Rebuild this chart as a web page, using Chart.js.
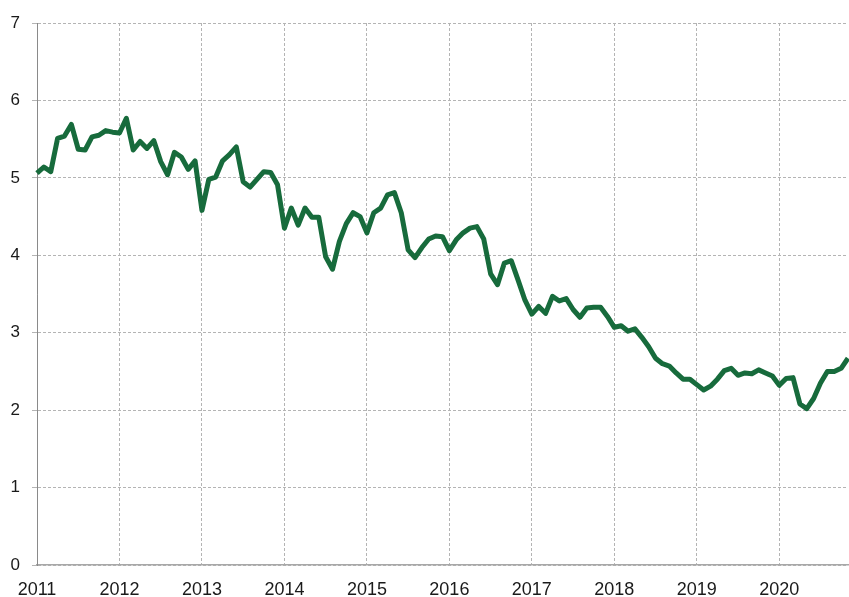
<!DOCTYPE html>
<html>
<head>
<meta charset="utf-8">
<script src="https://cdn.jsdelivr.net/npm/chart.js@4.4.1/dist/chart.umd.min.js"></script>
<style>
    body { margin: 0; background: #fff; }
    #wrap { width: 849px; height: 597px; }
</style>
</head>
<body>
<div id="wrap"><canvas id="rateChart" width="849" height="597"></canvas></div>
<script>
// monthly values, Jan 2011 .. Nov 2020
var years = ['2011', '2012', '2013', '2014', '2015', '2016', '2017', '2018', '2019', '2020'];
var yTicks = [0, 1, 2, 3, 4, 5, 6, 7];
var values = [
    5.06, 5.14, 5.08, 5.51, 5.54, 5.69, 5.37, 5.36, 5.53, 5.55, 5.61, 5.59,
    5.58, 5.77, 5.36, 5.47, 5.38, 5.48, 5.21, 5.04, 5.33, 5.27, 5.11, 5.22,
    4.58, 4.98, 5.01, 5.22, 5.30, 5.40, 4.95, 4.88, 4.98, 5.08, 5.07, 4.91,
    4.35, 4.61, 4.39, 4.61, 4.49, 4.49, 3.98, 3.82, 4.18, 4.41, 4.55, 4.50,
    4.29, 4.55, 4.61, 4.78, 4.81, 4.55, 4.07, 3.97, 4.10, 4.21, 4.25, 4.24,
    4.06, 4.20, 4.29, 4.35, 4.37, 4.21, 3.76, 3.62, 3.90, 3.93, 3.68, 3.42,
    3.24, 3.34, 3.25, 3.47, 3.41, 3.44, 3.30, 3.20, 3.32, 3.33, 3.33, 3.21,
    3.07, 3.09, 3.02, 3.05, 2.94, 2.82, 2.67, 2.60, 2.57, 2.48, 2.40, 2.40,
    2.33, 2.26, 2.31, 2.40, 2.51, 2.54, 2.45, 2.48, 2.47, 2.52, 2.48, 2.44,
    2.32, 2.41, 2.42, 2.08, 2.02, 2.15, 2.35, 2.50, 2.50, 2.54, 2.67
];

// one label per month, e.g. "2011-01"
var labels = [];
years.forEach(function(y) {
    for (var m = 1; m <= 12; m++) {
        labels.push(y + '-' + (m < 10 ? '0' + m : m));
    }
});
labels = labels.slice(0, values.length);

var fontFamily = '"Liberation Sans", Arial, sans-serif';

var ctx = document.getElementById('rateChart').getContext('2d');
var rateChart = new Chart(ctx, {
    type: 'line',
    data: {
        labels: labels,
        datasets: [{
            data: values,
            borderColor: '#176b3c',
            borderWidth: 5,
            borderJoinStyle: 'round',
            fill: false,
            pointRadius: 0,
            tension: 0
        }]
    },
    options: {
        responsive: false,
        animation: false,
        layout: { padding: { top: 23, right: 1, bottom: 0, left: 0 } },
        plugins: {
            legend: { display: false },
            tooltip: { enabled: false }
        },
        scales: {
            x: {
                offset: false,
                grid: {
                    drawTicks: false,
                    lineWidth: function(c) {
                        return c.index % 12 === 0 ? 1 : 0;
                    },
                    color: '#b4b4b4'
                },
                border: { color: '#a8a8a8', width: 1.5, dash: [3, 2] },
                ticks: {
                    autoSkip: false,
                    maxRotation: 0,
                    padding: 14,
                    color: '#1a1a1a',
                    font: { family: fontFamily, size: 18 },
                    callback: function(value, index) {
                        return index % 12 === 0 ? years[index / 12] : '';
                    }
                },
                afterFit: function(scale) {
                    scale.height = 32;
                    scale.paddingRight = 0;
                    scale.paddingLeft = 0;
                }
            },
            y: {
                min: 0,
                max: 7,
                afterBuildTicks: function(scale) {
                    scale.ticks = yTicks.map(function(v) { return { value: v }; });
                },
                grid: {
                    color: '#b4b4b4',
                    lineWidth: 1,
                    tickLength: 5,
                    tickBorderDash: []
                },
                border: { color: '#8a8a8a', width: 1, dash: [3, 2] },
                ticks: {
                    padding: 12,
                    color: '#1a1a1a',
                    font: { family: fontFamily, size: 17 }
                },
                afterFit: function(scale) { scale.width = 37; }
            }
        }
    }
});
</script>
</body>
</html>
